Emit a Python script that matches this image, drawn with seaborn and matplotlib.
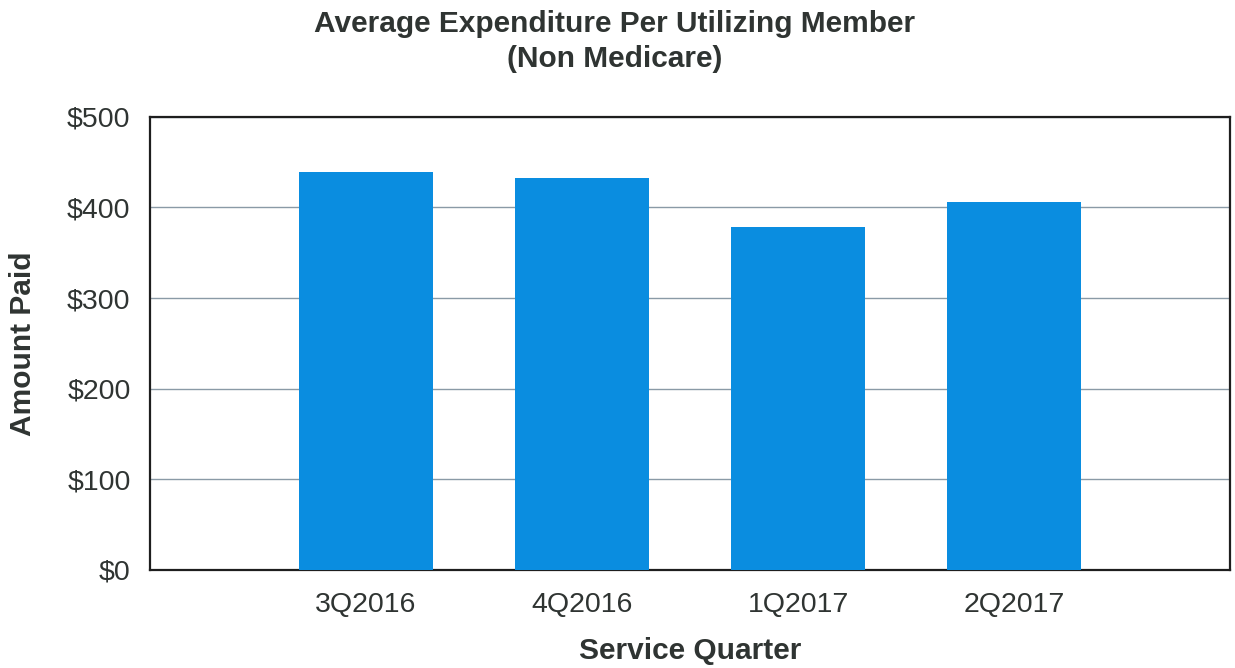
"""Average expenditure per utilizing member bar chart."""

import matplotlib

matplotlib.use("Agg")
import matplotlib.pyplot as plt
import pandas as pd
import seaborn as sns
from matplotlib.ticker import FuncFormatter

QUARTERS = ["3Q2016", "4Q2016", "1Q2017", "2Q2017"]
AMOUNT_PAID = [439, 433, 378, 406]
Y_TICKS = [0, 100, 200, 300, 400, 500]

BAR_COLOR = "#0a8de0"
TEXT_COLOR = "#2f3432"


def main() -> None:
    df = pd.DataFrame({"quarter": QUARTERS, "amount": AMOUNT_PAID})

    sns.set_theme(style="white")
    plt.rcParams["font.family"] = ["Liberation Sans", "DejaVu Sans"]

    fig = plt.figure(figsize=(12.35, 6.68), dpi=100)
    ax = fig.add_axes([0.1215, 0.147, 0.8745, 0.678])

    sns.barplot(data=df, x="quarter", y="amount", order=QUARTERS,
                color=BAR_COLOR, saturation=1, width=0.62, linewidth=0,
                ax=ax, zorder=3)

    ax.set_xlim(-1, 4)
    ax.set_ylim(0, 500)
    ax.set_yticks(Y_TICKS)
    ax.yaxis.set_major_formatter(FuncFormatter(lambda v, _: f"${v:,.0f}"))
    ax.yaxis.grid(True, color="#8a9aa6", linewidth=1.0, zorder=0)
    ax.set_axisbelow(True)
    for spine in ax.spines.values():
        spine.set_color("#1e1e1e")
        spine.set_linewidth(1.6)
    ax.tick_params(axis="both", length=0, labelsize=20.5, colors=TEXT_COLOR)
    ax.tick_params(axis="x", pad=16)
    ax.tick_params(axis="y", pad=14)

    ax.set_xlabel("Service Quarter", fontsize=21.5, fontweight="bold",
                  color=TEXT_COLOR, labelpad=14)
    ax.set_ylabel("Amount Paid", fontsize=21.5, fontweight="bold",
                  color=TEXT_COLOR, labelpad=22)
    fig.suptitle("Average Expenditure Per Utilizing Member\n(Non Medicare)",
                 x=0.498, y=0.985, fontsize=21.5, fontweight="bold",
                 color=TEXT_COLOR, linespacing=1.3)

    fig.savefig("out.png", dpi=100, facecolor="white")
    plt.close(fig)


if __name__ == "__main__":
    main()
